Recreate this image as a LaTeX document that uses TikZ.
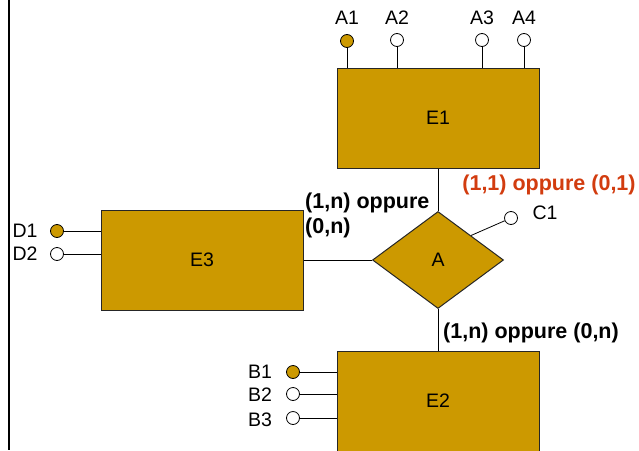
\documentclass[tikz,border=0pt]{standalone}
\usepackage{fontspec}
\setmainfont{Liberation Sans}
\usetikzlibrary{shapes.geometric}
\definecolor{gold}{RGB}{204,153,0}
\definecolor{cardred}{RGB}{210,60,15}
\tikzset{
  entity/.style={draw=black!85, line width=1pt, fill=gold, rectangle, minimum width=202pt, minimum height=100pt, inner sep=0pt, font=\fontsize{19.5}{23}\selectfont},
  relation/.style={draw=black!85, line width=1pt, fill=gold, diamond, aspect=1.35, minimum width=131pt, minimum height=97pt, inner sep=0pt, font=\fontsize{19.5}{23}\selectfont},
  attr/.style={draw=black, line width=0.8pt, fill=white, circle, minimum size=13pt, inner sep=0pt},
  keyattr/.style={attr, fill=gold},
  attrname/.style={inner sep=0pt, font=\fontsize{19.5}{23}\selectfont},
  card/.style={inner sep=0pt, font=\fontsize{21.5}{25}\selectfont\bfseries, align=left},
  link/.style={line width=0.8pt}
}
\begin{document}
\begin{tikzpicture}[x=1pt,y=-1pt]
\useasboundingbox (0,0) rectangle (639,450);
\draw[line width=2pt] (9,0) -- (9,450);
\node[entity] (e1) at (438,118) {E1};
\node[entity] (e3) at (202,260) {E3};
\node[entity] (e2) at (438,401) {E2};
\node[relation] (a) at (438,260) {A};
\node[keyattr] (a1) at (347,41) {};
\node[attr] (a2) at (397,40) {};
\node[attr] (a3) at (482,40) {};
\node[attr] (a4) at (524,40) {};
\node[attrname] (na1) at (347,18) {A1};
\node[attrname] (na2) at (397,18) {A2};
\node[attrname] (na3) at (482,18) {A3};
\node[attrname] (na4) at (524,18) {A4};
\node[keyattr] (d1) at (57,231) {};
\node[attr] (d2) at (57,254) {};
\node[attrname] (nd1) at (25,231) {D1};
\node[attrname] (nd2) at (25,254) {D2};
\node[keyattr] (b1) at (293,372) {};
\node[attr] (b2) at (293,394) {};
\node[attr] (b3) at (293,418) {};
\node[attrname] (nb1) at (260,372) {B1};
\node[attrname] (nb2) at (260,395) {B2};
\node[attrname] (nb3) at (260,420) {B3};
\node[attr] (c1) at (511,218) {};
\node[attrname] (nc1) at (545,213) {C1};
\node[card, anchor=west] (k3) at (305,215) {(1,n) oppure\\(0,n)};
\node[card, text=cardred] (k1) at (549,185) {(1,1) oppure (0,1)};
\node[card, anchor=west] (k2) at (443,333) {(1,n) oppure (0,n)};
\draw[link] (a1) -- (a1 |- e1.north);
\draw[link] (a2) -- (a2 |- e1.north);
\draw[link] (a3) -- (a3 |- e1.north);
\draw[link] (a4) -- (a4 |- e1.north);
\draw[link] (d1) -- (d1 -| e3.west);
\draw[link] (d2) -- (d2 -| e3.west);
\draw[link] (b1) -- (b1 -| e2.west);
\draw[link] (b2) -- (b2 -| e2.west);
\draw[link] (b3) -- (b3 -| e2.west);
\draw[link] (e1) -- (a);
\draw[link] (e3) -- (a);
\draw[link] (a) -- (e2);
\draw[link] (a.north east) -- (c1);
\end{tikzpicture}
\end{document}
